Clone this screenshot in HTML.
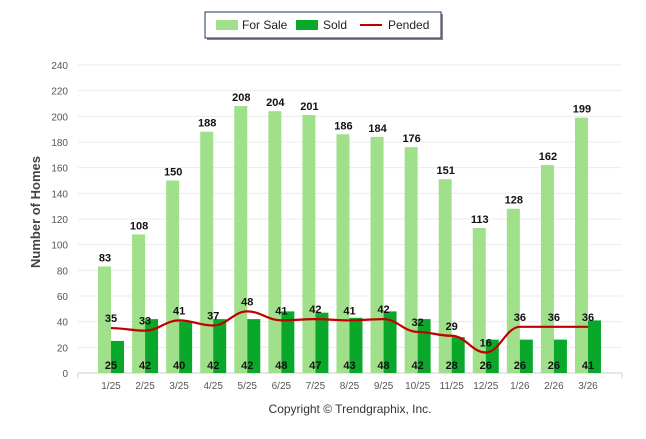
<!DOCTYPE html>
<html><head><meta charset="utf-8"><style>
body{margin:0;background:#fff;font-family:"Liberation Sans",sans-serif}
svg text{font-family:"Liberation Sans",sans-serif}
</style></head><body>
<svg width="646" height="434">
<g id="grid"></g>
<g id="bars"></g>
<path id="pline" fill="none" stroke="#c00000" stroke-width="2.2"/>
<g id="labels"></g>
<text x="40" y="212" transform="rotate(-90 40 212)" text-anchor="middle" font-size="13" font-weight="bold" fill="#444">Number of Homes</text>
<text x="350" y="413" text-anchor="middle" font-size="12" fill="#333">Copyright © Trendgraphix, Inc.</text>
<g>
<rect x="207" y="14" width="236" height="26" fill="#888"/>
<rect x="205" y="12" width="236" height="26" fill="#fff" stroke="#223366" stroke-width="1"/>
<rect x="216" y="20" width="22" height="10" fill="#a0e08a"/>
<text x="242" y="29" font-size="12" fill="#222">For Sale</text>
<rect x="296" y="20" width="22" height="10" fill="#0aa82a"/>
<text x="323" y="29" font-size="12" fill="#222">Sold</text>
<line x1="360" y1="25" x2="382" y2="25" stroke="#c00000" stroke-width="2"/>
<text x="388" y="29" font-size="12" fill="#222">Pended</text>
</g>
</svg>
<script>
const categories=["1/25","2/25","3/25","4/25","5/25","6/25","7/25","8/25","9/25","10/25","11/25","12/25","1/26","2/26","3/26"];
const forSale=[83,108,150,188,208,204,201,186,184,176,151,113,128,162,199];
const sold=[25,42,40,42,42,48,47,43,48,42,28,26,26,26,41];
const pended=[35,33,41,37,48,41,42,41,42,32,29,16,36,36,36];
const yTicks=[0,20,40,60,80,100,120,140,160,180,200,220,240];
const NS="http://www.w3.org/2000/svg";
const y=v=>373-v*308/240;
const x=i=>111+i*34.07;
function mk(tag,attrs,parent,txt){const e=document.createElementNS(NS,tag);for(const k in attrs)e.setAttribute(k,attrs[k]);if(txt!==undefined)e.textContent=txt;parent.appendChild(e);return e;}
const grid=document.getElementById('grid'),bars=document.getElementById('bars'),labels=document.getElementById('labels');
yTicks.forEach(t=>{
 const l=mk('line',{x1:78,x2:622,y1:y(t),y2:y(t),stroke:t===0?'#ccc':'#ebebeb','stroke-width':1},grid);
 
 
 const tx=mk('text',{x:68,y:y(t)+4,'text-anchor':'end','font-size':10,fill:'#555'},grid,t);
 
 
});
mk('line',{x1:622,x2:622,y1:373,y2:378,stroke:'#ccc'},grid);
mk('line',{x1:78,x2:78,y1:373,y2:378,stroke:'#ccc'},grid);
categories.forEach((c,i)=>{
 const cx=x(i);
 const b1=mk('rect',{x:cx-13,y:y(forSale[i]),width:13,height:373-y(forSale[i]),fill:'#a0e08a'},bars);
 
 
 const b2=mk('rect',{x:cx,y:y(sold[i]),width:13,height:373-y(sold[i]),fill:'#0aa82a'},bars);
 
 
 const xl=mk('text',{x:cx,y:389,'text-anchor':'middle','font-size':10,fill:'#555'},labels,c);
 
 
 const l1=mk('text',{x:cx-6,y:y(forSale[i])-5,'text-anchor':'middle','font-size':11,'font-weight':'bold',fill:'#111'},labels,forSale[i]);
 
 
 const l2=mk('text',{x:cx,y:369,'text-anchor':'middle','font-size':11,'font-weight':'bold',fill:'#111'},labels,sold[i]);
 
 
 const l3=mk('text',{x:cx,y:y(pended[i])-6,'text-anchor':'middle','font-size':11,'font-weight':'bold',fill:'#111'},labels,pended[i]);
 
 
});
// smooth line (monotone-ish cardinal)
const pts=pended.map((v,i)=>[x(i),y(v)]);
let d=`M${pts[0][0]},${pts[0][1]}`;
for(let i=0;i<pts.length-1;i++){
 const p0=pts[i],p1=pts[i+1],dx=(p1[0]-p0[0])/2.5;
 d+=` C${p0[0]+dx},${p0[1]} ${p1[0]-dx},${p1[1]} ${p1[0]},${p1[1]}`;
}
document.getElementById('pline').setAttribute('d',d);
</script>
</body></html>
